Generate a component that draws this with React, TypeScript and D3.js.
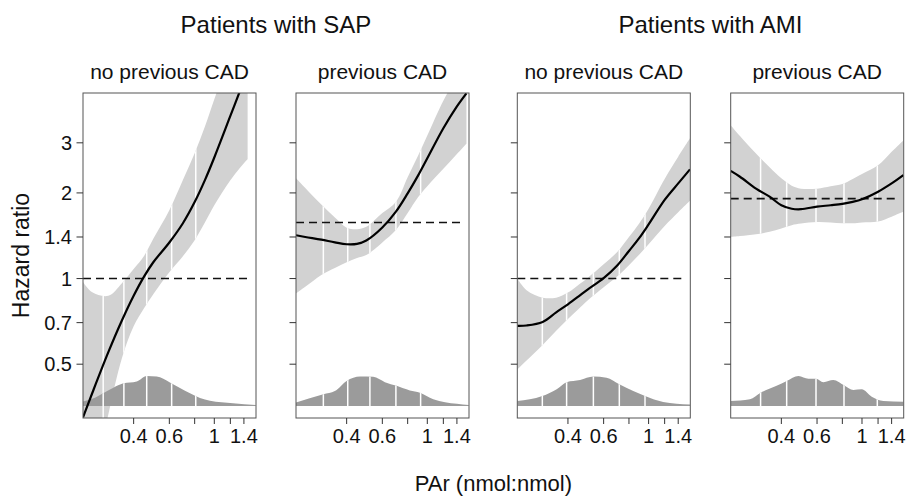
import React from 'react';
import * as d3 from 'd3';

// ---- data ----
const groupTitles = ['Patients with SAP', 'Patients with AMI'];
const panelTitles = ['no previous CAD', 'previous CAD', 'no previous CAD', 'previous CAD'];

const hrTicks = [0.5, 0.7, 1, 1.4, 2, 3];
const parTicks = [0.4, 0.6, 0.8, 1.0, 1.2, 1.4];
const parTickLabels = [0.4, 0.6, 1, 1.4];

const gridPar = [0.225, 0.25, 0.3, 0.35, 0.4, 0.45, 0.5, 0.6, 0.7, 0.8, 0.9, 1.0, 1.2, 1.4, 1.6];

// SAP, no previous CAD
const p1Par = [0.225, 0.25, 0.3, 0.35, 0.4, 0.45, 0.5, 0.6, 0.7, 0.8, 0.9, 1.0, 1.2, 1.4, 1.46];
const p1Hr = [0.325, 0.396, 0.551, 0.712, 0.87, 1.016, 1.141, 1.339, 1.565, 1.857, 2.223, 2.664, 3.728, 4.963, 5.366];
const p1Lo = [0.128, 0.183, 0.333, 0.525, 0.68, 0.786, 0.881, 1.052, 1.198, 1.364, 1.578, 1.811, 2.216, 2.544, 2.627];
const p1Hi = [0.973, 0.895, 0.87, 0.963, 1.08, 1.2, 1.38, 1.74, 2.22, 2.76, 3.43, 4.27, 6.1, 8.23, 8.92];
const p1Ref = 1;
const p1Quant = [0.283, 0.358, 0.464, 0.616, 0.81];
const p1DensPar = [0.225, 0.25, 0.283, 0.316, 0.356, 0.414, 0.464, 0.52, 0.604, 0.677, 0.759, 0.85, 0.952, 1.237, 1.6];
const p1Dens = [0.145, 0.23, 0.41, 0.58, 0.73, 0.79, 0.97, 0.95, 0.76, 0.58, 0.41, 0.26, 0.17, 0.09, 0.03];

// SAP, previous CAD
const p2Par = [0.225, 0.25, 0.3, 0.35, 0.4, 0.45, 0.5, 0.6, 0.7, 0.8, 0.9, 1.0, 1.2, 1.4, 1.56];
const p2Hr = [1.42, 1.4, 1.37, 1.34, 1.32, 1.324, 1.36, 1.511, 1.718, 1.992, 2.3, 2.646, 3.374, 4.027, 4.477];
const p2Lo = [0.886, 0.935, 1.03, 1.09, 1.14, 1.18, 1.21, 1.34, 1.48, 1.7, 1.93, 2.11, 2.43, 2.74, 2.98];
const p2Hi = [2.25, 2.08, 1.82, 1.64, 1.51, 1.49, 1.52, 1.7, 1.86, 2.27, 2.7, 3.18, 4.22, 5.12, 5.9];
const p2Ref = 1.574;
const p2Quant = [0.307, 0.405, 0.521, 0.7, 0.927];
const p2DensPar = [0.225, 0.307, 0.35, 0.4, 0.466, 0.541, 0.618, 0.706, 0.82, 0.92, 1.07, 1.4, 1.6];
const p2Dens = [0.11, 0.38, 0.48, 0.81, 0.95, 0.94, 0.77, 0.65, 0.5, 0.43, 0.22, 0.07, 0.03];

// AMI, no previous CAD
const p3Hr = [0.682, 0.684, 0.704, 0.761, 0.812, 0.864, 0.915, 1.003, 1.111, 1.25, 1.39, 1.55, 1.89, 2.16, 2.42];
const p3Lo = [0.479, 0.515, 0.584, 0.655, 0.721, 0.78, 0.837, 0.932, 1.016, 1.114, 1.215, 1.32, 1.53, 1.71, 1.876];
const p3Hi = [1.0, 0.91, 0.857, 0.857, 0.893, 0.95, 1.005, 1.123, 1.24, 1.4, 1.565, 1.76, 2.24, 2.68, 3.11];
const p3Ref = 1;
const p3Quant = [0.299, 0.394, 0.534, 0.717, 0.96];
const p3DensPar = [0.225, 0.299, 0.352, 0.394, 0.459, 0.534, 0.62, 0.717, 0.84, 0.96, 1.18, 1.6];
const p3Dens = [0.16, 0.32, 0.54, 0.77, 0.84, 0.95, 0.91, 0.7, 0.48, 0.32, 0.13, 0.05];

// AMI, previous CAD
const p4Hr = [2.39, 2.28, 2.07, 1.94, 1.81, 1.76, 1.753, 1.79, 1.81, 1.83, 1.86, 1.9, 2.02, 2.16, 2.31];
const p4Lo = [1.4, 1.41, 1.43, 1.46, 1.5, 1.54, 1.56, 1.58, 1.575, 1.565, 1.565, 1.575, 1.586, 1.65, 1.716];
const p4Hi = [3.46, 3.17, 2.75, 2.46, 2.25, 2.12, 2.07, 2.07, 2.11, 2.15, 2.24, 2.33, 2.5, 2.79, 3.06];
const p4Ref = 1.91;
const p4Quant = [0.316, 0.425, 0.593, 0.815, 1.19];
const p4DensPar = [0.225, 0.28, 0.316, 0.379, 0.425, 0.486, 0.544, 0.593, 0.645, 0.722, 0.815, 0.907, 0.997, 1.117, 1.275, 1.6];
const p4Dens = [0.16, 0.22, 0.43, 0.65, 0.81, 0.97, 0.88, 0.88, 0.77, 0.84, 0.67, 0.52, 0.54, 0.3, 0.16, 0.14];

// ---- layout ----
const W = 906;
const H = 498;
const PW = 173;
const PH = 325;
const TOP = 93;
const LEFTS = [83, 296, 517.3, 730.7];
const FONT = '"Liberation Sans", Arial, Helvetica, sans-serif';

type Panel = {
  par: number[]; hr: number[]; lo: number[]; hi: number[]; ref: number;
  quant: number[]; dPar: number[]; dens: number[];
};

const panels: Panel[] = [
  { par: p1Par, hr: p1Hr, lo: p1Lo, hi: p1Hi, ref: p1Ref, quant: p1Quant, dPar: p1DensPar, dens: p1Dens },
  { par: p2Par, hr: p2Hr, lo: p2Lo, hi: p2Hi, ref: p2Ref, quant: p2Quant, dPar: p2DensPar, dens: p2Dens },
  { par: gridPar, hr: p3Hr, lo: p3Lo, hi: p3Hi, ref: p3Ref, quant: p3Quant, dPar: p3DensPar, dens: p3Dens },
  { par: gridPar, hr: p4Hr, lo: p4Lo, hi: p4Hi, ref: p4Ref, quant: p4Quant, dPar: p4DensPar, dens: p4Dens },
];

export default function App() {
  const x = d3.scaleLog().domain([0.225, 1.606]).range([0, PW]);
  const y = d3.scaleLog().domain([0.3235, 4.49]).range([PH, 0]);
  const yd = d3.scaleLinear().domain([0, 1]).range([313, 282]);
  const smooth = d3.curveCatmullRom.alpha(0.5);

  const mkBand = (p: Panel) =>
    d3.area<number>()
      .x((_, i) => x(p.par[i]))
      .y0((_, i) => y(p.lo[i]))
      .y1((_, i) => y(p.hi[i]))
      .curve(smooth)(p.par) as string;
  const mkLine = (p: Panel) =>
    d3.line<number>()
      .x((_, i) => x(p.par[i]))
      .y((_, i) => y(p.hr[i]))
      .curve(smooth)(p.par) as string;
  const mkDens = (p: Panel) =>
    d3.area<number>()
      .x((_, i) => x(p.dPar[i]))
      .y0(yd(0))
      .y1((_, i) => yd(p.dens[i]))
      .curve(d3.curveMonotoneX)(p.dPar) as string;

  const groupCenters = [(LEFTS[0] + LEFTS[1] + PW) / 2, (LEFTS[2] + LEFTS[3] + PW) / 2];

  return (
    <svg width={W} height={H} style={{ position: 'absolute', left: 0, top: 0, background: '#fff' }}
      fontFamily={FONT}>
      <rect x={0} y={0} width={W} height={H} fill="#fff" />
      {groupTitles.map((t, i) => (
        <text key={t} x={groupCenters[i]} y={33} fontSize={24} textAnchor="middle" fill="#111">{t}</text>
      ))}
      {panelTitles.map((t, i) => (
        <text key={i} x={LEFTS[i] + PW / 2} y={79} fontSize={21} textAnchor="middle" fill="#111">{t}</text>
      ))}
      <text transform={`translate(28.5,${TOP + PH / 2}) rotate(-90)`} fontSize={23} textAnchor="middle" fill="#111">Hazard ratio</text>
      <text x={(LEFTS[0] + LEFTS[3] + PW) / 2} y={491} fontSize={22} textAnchor="middle" fill="#111">PAr (nmol:nmol)</text>

      {panels.map((p, i) => {
        const band = mkBand(p);
        const dens = mkDens(p);
        return (
          <g key={i} transform={`translate(${LEFTS[i]},${TOP})`}>
            <defs>
              <clipPath id={`clip${i}`}><rect x={0} y={0} width={PW} height={PH} /></clipPath>
              <clipPath id={`band${i}`}><path d={band} /></clipPath>
              <clipPath id={`dens${i}`}><path d={dens} /></clipPath>
            </defs>
            <g clipPath={`url(#clip${i})`}>
              <path d={band} fill="#d2d2d2" />
              <g clipPath={`url(#band${i})`}>
                {p.quant.map((q, k) => (
                  <line key={k} x1={x(q)} x2={x(q)} y1={0} y2={PH} stroke="#fff" strokeWidth={1.5} />
                ))}
              </g>
              <path d={dens} fill="#9b9b9b" />
              <g clipPath={`url(#dens${i})`}>
                {p.quant.map((q, k) => (
                  <line key={k} x1={x(q)} x2={x(q)} y1={0} y2={PH} stroke="#fff" strokeWidth={1.5} />
                ))}
              </g>
              <line x1={0} x2={PW - 4} y1={y(p.ref)} y2={y(p.ref)} stroke="#111" strokeWidth={1.6} strokeDasharray="8,5" />
              <path d={mkLine(p)} fill="none" stroke="#000" strokeWidth={2.2} />
            </g>
            <rect x={0} y={0} width={PW} height={PH} fill="none" stroke="#555" strokeWidth={1} />
            {hrTicks.map(t => (
              <line key={t} x1={-6.5} x2={0} y1={y(t)} y2={y(t)} stroke="#333" strokeWidth={1} />
            ))}
            {parTicks.map(t => (
              <line key={t} x1={x(t)} x2={x(t)} y1={PH} y2={PH + 6} stroke="#333" strokeWidth={1} />
            ))}
            {parTickLabels.map(t => (
              <text key={t} x={x(t)} y={PH + 25} fontSize={20} textAnchor="middle" fill="#111">{String(t)}</text>
            ))}
            {i === 0 && hrTicks.map(t => (
              <text key={t} x={-11} y={y(t)} dy="0.36em" fontSize={20} textAnchor="end" fill="#111">{String(t)}</text>
            ))}
          </g>
        );
      })}
    </svg>
  );
}
